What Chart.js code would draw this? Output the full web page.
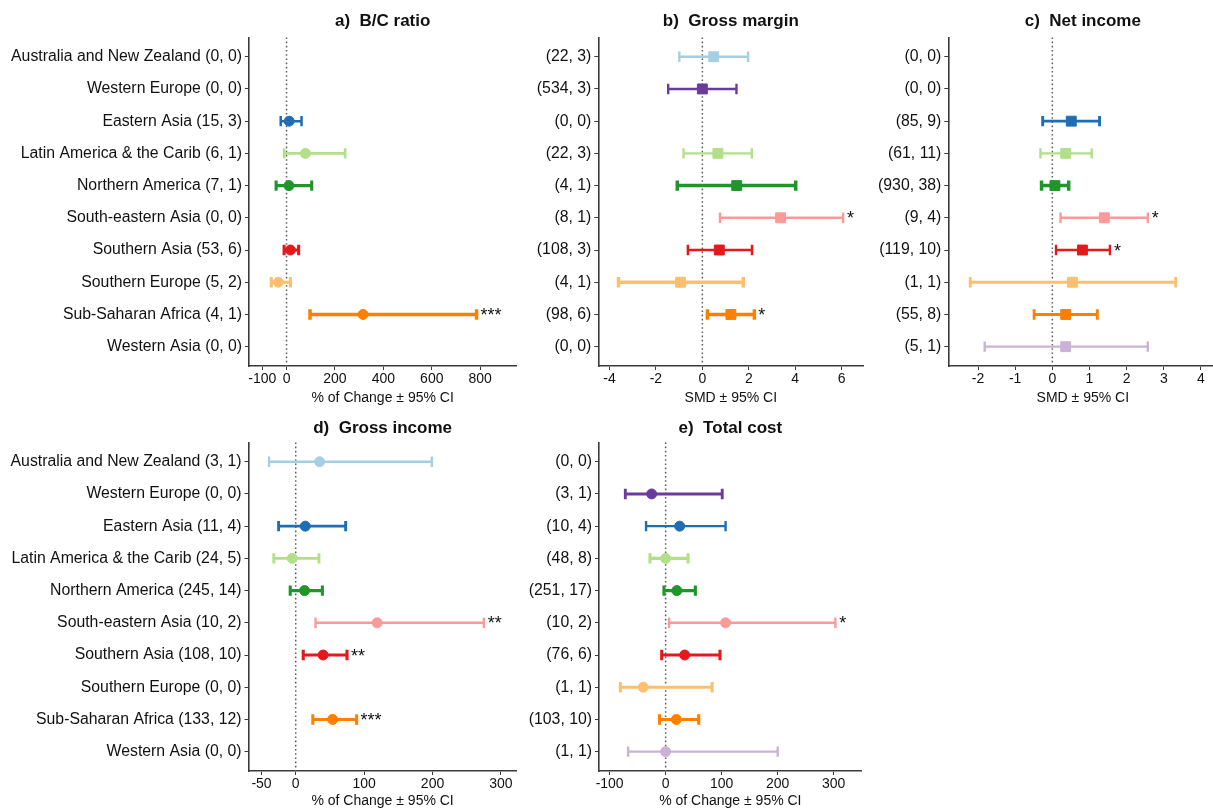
<!DOCTYPE html>
<html lang="en">
<head>
<meta charset="UTF-8">
<title>Meta-analysis by region</title>
<script src="https://cdn.jsdelivr.net/npm/chart.js"></script>
<style>
  html, body { margin: 0; padding: 0; background: #fff; }
  body { width: 1213px; height: 810px; overflow: hidden; position: relative; }
  .panel { position: absolute; }
</style>
</head>
<body>
<canvas class="panel" id="chartA" width="525" height="410" style="left:0;top:0"></canvas>
<canvas class="panel" id="chartB" width="347" height="410" style="left:525px;top:0"></canvas>
<canvas class="panel" id="chartC" width="354" height="410" style="left:872px;top:0"></canvas>
<canvas class="panel" id="chartD" width="525" height="405" style="left:0;top:405px"></canvas>
<canvas class="panel" id="chartE" width="345" height="405" style="left:525px;top:405px"></canvas>

<script>
// regions, top to bottom
const regions = ['Australia and New Zealand', 'Western Europe', 'Eastern Asia', 'Latin America & the Carib',
  'Northern America', 'South-eastern Asia', 'Southern Asia', 'Southern Europe', 'Sub-Saharan Africa', 'Western Asia'];

// a) B/C ratio (% of change)
const bcCounts = ['(0, 0)', '(0, 0)', '(15, 3)', '(6, 1)', '(7, 1)', '(0, 0)', '(53, 6)', '(5, 2)', '(4, 1)', '(0, 0)'];
const bcMean  = [null, null, 11, 78, 10, null, 16, -34, 316, null];
const bcLower = [null, null, -24, -10, -43, null, -10, -63, 97, null];
const bcUpper = [null, null, 62, 242, 104, null, 50, 16, 785, null];
const bcStars = ['', '', '', '', '', '', '', '', '***', ''];
const bcTicks = [-100, 0, 200, 400, 600, 800];

// b) Gross margin (SMD)
const gmCounts = ['(22, 3)', '(534, 3)', '(0, 0)', '(22, 3)', '(4, 1)', '(8, 1)', '(108, 3)', '(4, 1)', '(98, 6)', '(0, 0)'];
const gmMean  = [0.49, 0, null, 0.67, 1.48, 3.37, 0.73, -0.94, 1.23, null];
const gmLower = [-0.99, -1.47, null, -0.81, -1.08, 0.76, -0.62, -3.61, 0.22, null];
const gmUpper = [1.97, 1.47, null, 2.13, 4.02, 6.06, 2.14, 1.76, 2.24, null];
const gmStars = ['', '', '', '', '', '*', '', '', '*', ''];
const gmTicks = [-4, -2, 0, 2, 4, 6];

// c) Net income (SMD)
const niCounts = ['(0, 0)', '(0, 0)', '(85, 9)', '(61, 11)', '(930, 38)', '(9, 4)', '(119, 10)', '(1, 1)', '(55, 8)', '(5, 1)'];
const niMean  = [null, null, 0.51, 0.36, 0.07, 1.40, 0.81, 0.54, 0.36, 0.36];
const niLower = [null, null, -0.26, -0.32, -0.29, 0.22, 0.10, -2.21, -0.49, -1.82];
const niUpper = [null, null, 1.27, 1.06, 0.44, 2.57, 1.55, 3.32, 1.21, 2.57];
const niStars = ['', '', '', '', '', '*', '*', '', '', ''];
const niTicks = [-2, -1, 0, 1, 2, 3, 4];

// d) Gross income (% of change)
const giCounts = ['(3, 1)', '(0, 0)', '(11, 4)', '(24, 5)', '(245, 14)', '(10, 2)', '(108, 10)', '(0, 0)', '(133, 12)', '(0, 0)'];
const giMean  = [35, null, 14, -5, 13, 119, 40, null, 54, null];
const giLower = [-39, null, -25, -32, -8, 29, 11, null, 25, null];
const giUpper = [199, null, 73, 34, 39, 275, 75, null, 89, null];
const giStars = ['', '', '', '', '', '**', '**', '', '***', ''];
const giTicks = [-50, 0, 100, 200, 300];

// e) Total cost (% of change)
const tcCounts = ['(0, 0)', '(3, 1)', '(10, 4)', '(48, 8)', '(251, 17)', '(10, 2)', '(76, 6)', '(1, 1)', '(103, 10)', '(1, 1)'];
const tcMean  = [null, -25, 25, 0, 20, 107, 34, -40, 19, 0];
const tcLower = [null, -72, -35, -28, -3, 6, -7, -81, -11, -67];
const tcUpper = [null, 101, 107, 40, 53, 303, 97, 83, 59, 200];
const tcStars = ['', '', '', '', '', '*', '', '', '', ''];
const tcTicks = [-100, 0, 100, 200, 300];

// styling
const regionColors = ['#a6cee3', '#6a3d9a', '#1f6db2', '#b2df8a', '#1f962a', '#fb9a99', '#e31a1c', '#fdbf6f', '#ff7f00', '#cab2d6'];
const FONT = "'Liberation Sans', Arial, sans-serif";
const INK = '#111';
const AXIS = '#3a3a3a';

const forestPlugin = {
  id: 'forest',
  beforeDatasetsDraw(chart) {
    const {ctx, chartArea, scales: {x}} = chart;
    const px = x.getPixelForValue(0);
    ctx.save();
    ctx.strokeStyle = '#5e5e5e';
    ctx.lineWidth = 1.5;
    ctx.setLineDash([1.6, 2.6]);
    ctx.beginPath();
    ctx.moveTo(px, chartArea.top);
    ctx.lineTo(px, chartArea.bottom);
    ctx.stroke();
    ctx.restore();
  },
  afterDraw(chart, args, opts) {
    const {ctx, chartArea, scales: {x, y}} = chart;
    ctx.save();
    ctx.fillStyle = INK;
    ctx.font = 'bold 17px ' + FONT;
    ctx.textAlign = 'center';
    ctx.textBaseline = 'middle';
    ctx.fillText(opts.title, (chartArea.left + chartArea.right) / 2, chartArea.top - opts.titleGap);
    ctx.font = '18px ' + FONT;
    ctx.textAlign = 'left';
    ctx.textBaseline = 'alphabetic';
    opts.stars.forEach((s, i) => {
      if (!s) return;
      ctx.fillText(s, x.getPixelForValue(opts.upper[i]) + 4, y.getPixelForValue(i + 1) + 6.5);
    });
    ctx.restore();
  }
};

function makePanel(id, p) {
  const datasets = [];
  const ptData = [], ptColors = [];
  p.mean.forEach((m, i) => {
    if (m === null) return;
    const c = regionColors[i];
    const w = p.widths[i];
    datasets.push({
      type: 'line',
      order: 2,
      data: [{x: p.lower[i], y: i + 1}, {x: p.upper[i], y: i + 1}],
      borderColor: c,
      borderWidth: w,
      pointStyle: 'line',
      pointRotation: 90,
      pointRadius: 5.2,
      pointHoverRadius: 5.2,
      pointBorderColor: c,
      pointBorderWidth: w,
      pointHoverBorderWidth: w,
      fill: false,
      tension: 0
    });
    ptData.push({x: m, y: i + 1});
    ptColors.push(c);
  });
  const r = p.marker === 'rect' ? 7 : 5;
  datasets.push({
    type: 'scatter',
    order: 1,
    data: ptData,
    pointStyle: p.marker,
    pointRadius: r,
    pointHoverRadius: r,
    backgroundColor: ptColors,
    borderColor: ptColors,
    borderWidth: 1
  });

  const axisGrid = {drawOnChartArea: false, drawTicks: true, tickLength: 4, color: AXIS, lineWidth: 1};
  const axisBorder = {display: true, color: AXIS, width: 1.6};

  new Chart(document.getElementById(id), {
    type: 'scatter',
    data: {datasets},
    plugins: [forestPlugin],
    options: {
      responsive: false,
      animation: false,
      events: [],
      layout: {padding: {top: p.top, right: p.right, left: 0, bottom: 0}},
      plugins: {
        legend: {display: false},
        tooltip: {enabled: false},
        forest: {title: p.title, titleGap: p.titleGap, stars: p.stars, upper: p.upper}
      },
      scales: {
        x: {
          type: 'linear',
          min: p.xmin,
          max: p.xmax,
          afterBuildTicks: s => { s.ticks = p.ticks.map(v => ({value: v})); },
          afterFit: s => { s.height = p.xHeight; },
          grid: axisGrid,
          border: axisBorder,
          ticks: {color: INK, font: {family: FONT, size: 14}, padding: 1, maxRotation: 0, autoSkip: false},
          title: {display: true, text: p.xTitle, color: INK, font: {family: FONT, size: 14},
                  padding: {top: 0, bottom: p.xTitlePad}}
        },
        y: {
          type: 'linear',
          min: 0.4,
          max: 10.6,
          reverse: true,
          afterBuildTicks: s => { s.ticks = p.labels.map((_, i) => ({value: i + 1})); },
          afterFit: s => { s.width = p.yWidth; },
          grid: axisGrid,
          border: axisBorder,
          ticks: {color: INK, font: {family: FONT, size: 15.8}, padding: 3, autoSkip: false,
                  callback: v => p.labels[Math.round(v) - 1]}
        }
      }
    }
  });
}

const pctTitle = '% of Change \u00b1 95% CI';
const smdTitle = 'SMD \u00b1 95% CI';

makePanel('chartA', {
  title: 'a)  B/C ratio', titleGap: 16.5, marker: 'circle',
  labels: regions.map((r, i) => r + ' ' + bcCounts[i]),
  mean: bcMean, lower: bcLower, upper: bcUpper, stars: bcStars, ticks: bcTicks,
  widths: [2.5, 2.5, 2.5, 2.6, 3.1, 2.5, 3.1, 3.1, 3.5, 2.5],
  xmin: -155, xmax: 949, xTitle: pctTitle,
  top: 37.4, right: 3.5, yWidth: 249, xHeight: 44, xTitlePad: 3
});

makePanel('chartB', {
  title: 'b)  Gross margin', titleGap: 16.5, marker: 'rect',
  labels: gmCounts,
  mean: gmMean, lower: gmLower, upper: gmUpper, stars: gmStars, ticks: gmTicks,
  widths: [2.4, 2.4, 2.4, 2.4, 3.5, 2.4, 2.6, 3.5, 3.5, 2.4],
  xmin: -4.48, xmax: 6.93, xTitle: smdTitle,
  top: 37.4, right: 0, yWidth: 73.3, xHeight: 44, xTitlePad: 3
});

makePanel('chartC', {
  title: 'c)  Net income', titleGap: 16.5, marker: 'rect',
  labels: niCounts,
  mean: niMean, lower: niLower, upper: niUpper, stars: niStars, ticks: niTicks,
  widths: [2.4, 2.4, 2.9, 2.4, 3.5, 2.4, 2.4, 2.9, 2.9, 2.4],
  xmin: -2.8, xmax: 4.44, xTitle: smdTitle,
  top: 37.4, right: 0, yWidth: 76.3, xHeight: 44, xTitlePad: 3
});

makePanel('chartD', {
  title: 'd)  Gross income', titleGap: 14, marker: 'circle',
  labels: regions.map((r, i) => r + ' ' + giCounts[i]),
  mean: giMean, lower: giLower, upper: giUpper, stars: giStars, ticks: giTicks,
  widths: [2.4, 2.4, 2.9, 2.9, 3.1, 2.4, 3.1, 2.4, 3.1, 2.4],
  xmin: -69, xmax: 323, xTitle: pctTitle,
  top: 37.4, right: 4, yWidth: 248.5, xHeight: 39, xTitlePad: 0
});

makePanel('chartE', {
  title: 'e)  Total cost', titleGap: 14, marker: 'circle',
  labels: tcCounts,
  mean: tcMean, lower: tcLower, upper: tcUpper, stars: tcStars, ticks: tcTicks,
  widths: [2.4, 2.9, 2.4, 3.1, 3.1, 2.4, 3.1, 3.1, 3.1, 2.4],
  xmin: -119, xmax: 350, xTitle: pctTitle,
  top: 37.4, right: 5, yWidth: 74, xHeight: 39, xTitlePad: 0
});
</script>
</body>
</html>
